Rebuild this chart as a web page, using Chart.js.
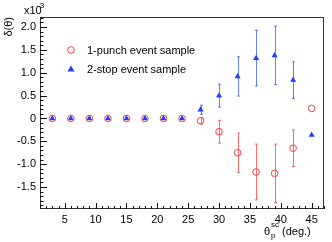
<!DOCTYPE html>
<html>
<head>
<meta charset="utf-8">
<script src="https://cdn.jsdelivr.net/npm/chart.js@4.4.1/dist/chart.umd.min.js"></script>
<style>
  html, body { margin: 0; padding: 0; background: #fff; }
</style>
</head>
<body>
<canvas id="deltaChart" width="332" height="242"></canvas>
<script>
// scattering angle bins (deg.)
var angles = [3, 6, 9, 12, 15, 18, 21, 24, 27, 30, 33, 36, 39, 42, 45];
// delta(theta) in units of 1e-3
var punchVals = [0, 0, 0, 0, 0, 0, 0, 0, -0.05, -0.29, -0.75, -1.17, -1.20, -0.65, 0.22];
var punchErr  = [0, 0, 0, 0, 0, 0, 0, 0, 0.07, 0.25, 0.43, 0.61, 0.64, 0.40, 0];
var stopVals  = [0, 0, 0, 0, 0, 0, 0, 0, 0.19, 0.50, 0.92, 1.32, 1.38, 0.84, -0.36];
var stopErr   = [0, 0, 0, 0, 0, 0, 0, 0, 0.10, 0.25, 0.43, 0.61, 0.64, 0.40, 0];
var xTicks = [5, 10, 15, 20, 25, 30, 35, 40, 45];
var yTicks = [-1.5, -1.0, -0.5, 0, 0.5, 1.0, 1.5, 2.0];

var RED = '#ff3b3b';
var BLUE = '#1f3dff';
var FONT = '"Liberation Sans", Arial, sans-serif';

function toPoints(vals, errs) {
    return angles.map(function(a, i) { return { x: a, y: vals[i], err: errs[i] }; });
}

// y tick labels, drawn by hand next to the inner ticks
var yLabels = {
    id: 'yLabels',
    afterDraw: function(chart) {
        var c = chart.ctx, ys = chart.scales.y, a = chart.chartArea;
        c.save();
        c.fillStyle = '#000';
        c.font = '11px ' + FONT;
        c.textAlign = 'right';
        c.textBaseline = 'middle';
        yTicks.forEach(function(t) {
            c.fillText(t === 0 ? '0' : t.toFixed(1), a.left - 4, ys.getPixelForValue(t));
        });
        c.restore();
    }
};

// error bars, frame, inner ticks, legend and axis titles
var rootStyle = {
    id: 'rootStyle',
    beforeDatasetsDraw: function(chart) {
        var c = chart.ctx, xs = chart.scales.x, ys = chart.scales.y;
        var colors = ['rgba(255,70,70,0.8)', 'rgba(40,70,255,0.7)'];
        chart.data.datasets.forEach(function(ds, di) {
            c.save();
            c.strokeStyle = colors[di];
            c.lineWidth = 1;
            ds.data.forEach(function(p) {
                if (!p.err) return;
                var px = Math.round(xs.getPixelForValue(p.x)) + 0.5;
                var y1 = ys.getPixelForValue(p.y + p.err);
                var y2 = ys.getPixelForValue(p.y - p.err);
                c.beginPath();
                c.moveTo(px, y1); c.lineTo(px, y2);
                c.moveTo(px - 1.5, y1); c.lineTo(px + 1.5, y1);
                c.moveTo(px - 1.5, y2); c.lineTo(px + 1.5, y2);
                c.stroke();
            });
            c.restore();
        });
    },
    afterDraw: function(chart) {
        var c = chart.ctx, a = chart.chartArea, xs = chart.scales.x, ys = chart.scales.y;
        c.save();
        // frame
        c.strokeStyle = '#333';
        c.lineWidth = 1;
        c.strokeRect(a.left + 0.5, a.top + 0.5, a.right - a.left - 1, a.bottom - a.top - 1);
        // ticks
        c.strokeStyle = '#111';
        c.beginPath();
        var i, p;
        for (i = 1; i <= 47; i++) {
            p = Math.round(xs.getPixelForValue(i)) + 0.5;
            c.moveTo(p, a.bottom); c.lineTo(p, a.bottom - ((i % 5 === 0) ? 6 : 3));
        }
        for (i = -19; i <= 22; i++) {
            p = Math.round(ys.getPixelForValue(i / 10)) + 0.5;
            c.moveTo(a.left, p); c.lineTo(a.left + ((i % 5 === 0) ? 7 : 3.5), p);
        }
        c.stroke();

        // legend
        c.fillStyle = '#000';
        c.font = '11px ' + FONT;
        c.textAlign = 'left';
        c.textBaseline = 'middle';
        var lx = 71, ly = [50, 69];
        chart.data.datasets.forEach(function(ds, di) {
            c.save();
            if (di === 0) {
                c.strokeStyle = RED; c.lineWidth = 1;
                c.beginPath(); c.arc(lx, ly[di], 3.3, 0, Math.PI * 2); c.stroke();
            } else {
                c.fillStyle = BLUE;
                c.beginPath();
                c.moveTo(lx, ly[di] - 3.5); c.lineTo(lx + 3.5, ly[di] + 2.5); c.lineTo(lx - 3.5, ly[di] + 2.5);
                c.closePath(); c.fill();
            }
            c.restore();
            c.fillText(ds.label, 87, ly[di] + 0.5);
        });

        // y title
        c.save();
        c.translate(12, 17);
        c.rotate(-Math.PI / 2);
        c.textAlign = 'right';
        c.textBaseline = 'alphabetic';
        c.fillText('\u03b4(\u03b8)', 0, 0);
        c.restore();

        // exponent
        c.textBaseline = 'alphabetic';
        c.textAlign = 'left';
        c.font = '11px ' + FONT;
        c.fillText('x10', 24, 14);
        c.font = '8px ' + FONT;
        c.fillText('-3', 37, 8);

        // x title
        c.font = '11px ' + FONT;
        c.fillText('\u03b8', 264, 235);
        c.font = '8px ' + FONT;
        c.fillText('p', 271, 238);
        c.fillText('sc', 271, 227);
        c.font = '11px ' + FONT;
        c.fillText('(deg.)', 282, 235);
        c.restore();
    }
};

var deltaChart = new Chart(document.getElementById('deltaChart').getContext('2d'), {
    type: 'scatter',
    data: {
        datasets: [{
            label: '1-punch event sample',
            data: toPoints(punchVals, punchErr),
            pointStyle: 'circle',
            pointRadius: 3.3,
            borderWidth: 1,
            borderColor: RED,
            backgroundColor: 'rgba(0,0,0,0)',
            order: 1
        }, {
            label: '2-stop event sample',
            data: toPoints(stopVals, stopErr),
            pointStyle: 'triangle',
            pointRadius: 3.5,
            borderWidth: 0,
            borderColor: BLUE,
            backgroundColor: BLUE,
            order: 2
        }]
    },
    options: {
        responsive: false,
        animation: false,
        layout: { padding: { left: 0, top: 17, right: 8, bottom: 0 } },
        plugins: {
            legend: { display: false },
            tooltip: { enabled: false }
        },
        scales: {
            x: {
                type: 'linear',
                min: 1,
                max: 47,
                grid: { display: false, drawTicks: false },
                border: { display: false },
                afterBuildTicks: function(scale) {
                    scale.ticks = xTicks.map(function(v) { return { value: v }; });
                },
                afterFit: function(scale) { scale.height = 33; },
                ticks: {
                    color: '#000',
                    padding: 4,
                    autoSkip: false,
                    maxRotation: 0,
                    font: { family: FONT, size: 11 }
                }
            },
            y: {
                min: -1.98,
                max: 2.22,
                afterFit: function(scale) { scale.width = 40; },
                grid: { display: false },
                border: { display: false },
                ticks: { display: false }
            }
        }
    },
    plugins: [yLabels, rootStyle]
});
</script>
</body>
</html>
